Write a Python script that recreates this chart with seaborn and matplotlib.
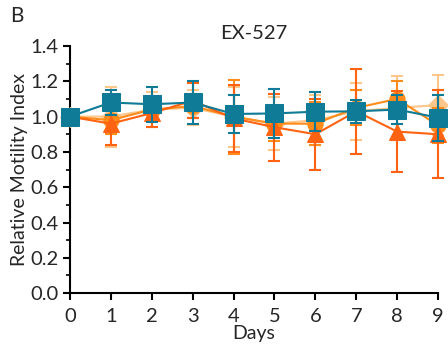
import numpy as np
import pandas as pd
import matplotlib
matplotlib.use("Agg")
import matplotlib.pyplot as plt
import seaborn as sns
from matplotlib.ticker import MultipleLocator

days = [0, 1, 2, 3, 4, 5, 6, 7, 8, 9]

light_mean = [1.0, 1.00, 1.04, 1.05, 1.00, 0.96, 0.98, 1.03, 1.05, 1.065]
light_err = [0.0, 0.17, 0.10, 0.10, 0.17, 0.15, 0.14, 0.16, 0.18, 0.17]
circle_mean = [1.0, 0.98, 1.04, 1.06, 1.00, 0.96, 0.96, 1.05, 1.10, 0.95]
circle_err = [0.0, 0.08, 0.06, 0.07, 0.21, 0.10, 0.12, 0.10, 0.10, 0.10]
tri_mean = [1.0, 0.96, 1.02, 1.09, 0.99, 0.94, 0.90, 1.03, 0.915, 0.90]
tri_err = [0.0, 0.12, 0.08, 0.10, 0.19, 0.19, 0.20, 0.24, 0.23, 0.25]
teal_mean = [1.0, 1.08, 1.07, 1.08, 1.015, 1.018, 1.028, 1.03, 1.04, 0.994]
teal_err = [0.0, 0.07, 0.10, 0.12, 0.11, 0.14, 0.11, 0.065, 0.08, 0.13]

series = [
    ("light", light_mean, light_err, "#FDC68A", "D", 10),
    ("circle", circle_mean, circle_err, "#FF8C1A", "o", 11),
    ("tri", tri_mean, tri_err, "#FF6210", "^", 11),
    ("teal", teal_mean, teal_err, "#0F7B96", "s", 13),
]

sns.set_style("ticks")
plt.rcParams['font.family'] = ['Lato', 'DejaVu Sans']

fig = plt.figure(figsize=(4.48, 3.54), dpi=100)
ax = fig.add_axes([0.156, 0.172, 0.822, 0.698])

for i, (name, m, e, c, mk, ms) in enumerate(series):
    df = pd.DataFrame({"Days": days, "val": m})
    ax.errorbar(days, m, yerr=e, fmt="none", ecolor=c, elinewidth=1.5,
                capsize=4, capthick=1.5, zorder=2 + i * 2, clip_on=False)
    sns.lineplot(data=df, x="Days", y="val", ax=ax, color=c, marker=mk,
                 markersize=ms, markeredgecolor=c, linewidth=1.5,
                 zorder=3 + i * 2, clip_on=False)

ax.set_xlim(0, 9)
ax.set_ylim(0, 1.4)
ax.set_xticks(days)
ax.yaxis.set_major_locator(MultipleLocator(0.2))
ax.yaxis.set_minor_locator(MultipleLocator(0.1))
ax.yaxis.set_major_formatter(matplotlib.ticker.FormatStrFormatter('%.1f'))
sns.despine(ax=ax)
for s in ["left", "bottom"]:
    ax.spines[s].set_linewidth(1.5)
    ax.spines[s].set_color("black")
ax.tick_params(axis="both", which="major", length=5, width=1.5, labelsize=14.5, color="black")
ax.tick_params(axis="x", which="major", pad=6)
ax.tick_params(axis="y", which="major", pad=3)
ax.tick_params(axis="y", which="minor", length=3, width=1.2, color="black")
ax.set_xlabel("Days", fontsize=14, labelpad=0)
ax.set_ylabel("Relative Motility Index", fontsize=14, labelpad=2)
ax.set_title("EX-527", fontsize=14.5, pad=5)
fig.text(0.022, 0.955, "B", fontsize=15, va="center", ha="left")

fig.savefig("out.png", dpi=100)
